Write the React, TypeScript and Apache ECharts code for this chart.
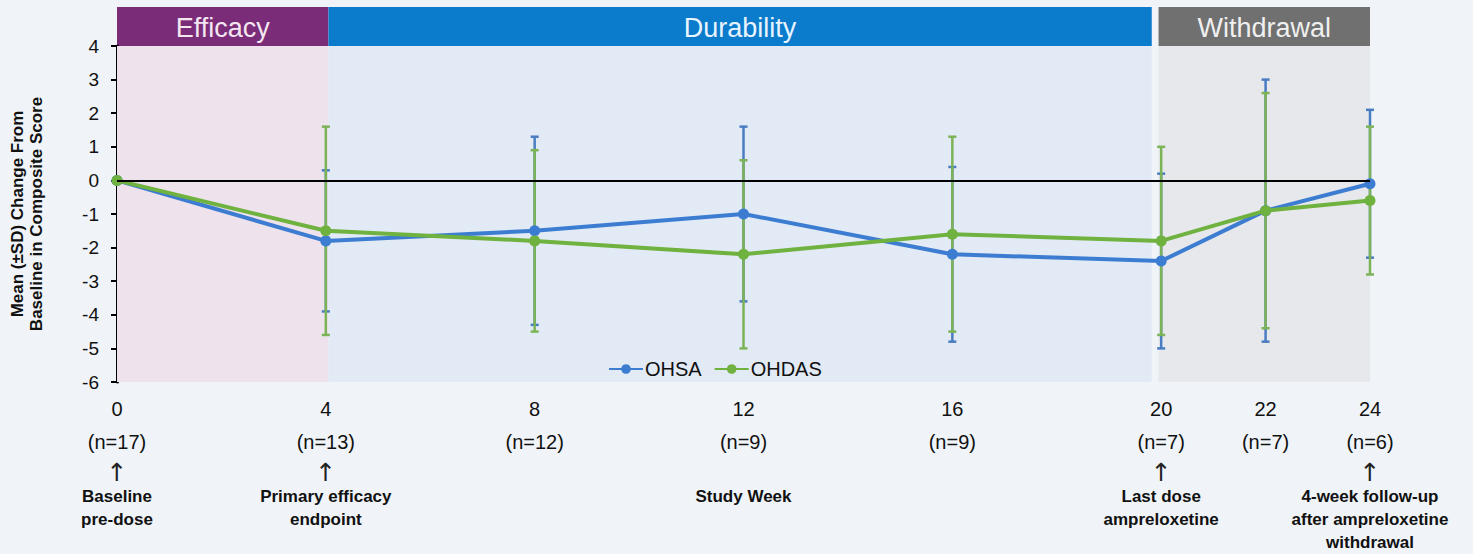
import React, { useEffect, useRef } from "react";
import * as echarts from "echarts";

// ---- data ----
const weeks = [0, 4, 8, 12, 16, 20, 22, 24];
const nCounts = [17, 13, 12, 9, 9, 7, 7, 6];
const ohsaMean = [0, -1.8, -1.5, -1.0, -2.2, -2.4, -0.9, -0.1];
const ohsaSD = [0, 2.1, 2.8, 2.6, 2.6, 2.6, 3.9, 2.2];
const ohdasMean = [0, -1.5, -1.8, -2.2, -1.6, -1.8, -0.9, -0.6];
const ohdasSD = [0, 3.1, 2.7, 2.8, 2.9, 2.8, 3.5, 2.2];
const arrows = [true, true, false, false, false, true, false, true];
const notes = [
  "Baseline\npre-dose",
  "Primary efficacy\nendpoint",
  "",
  "Study Week",
  "",
  "Last dose\nampreloxetine",
  "",
  "4-week follow-up\nafter ampreloxetine\nwithdrawal",
];
const phaseNames = ["Efficacy", "Durability", "Withdrawal"];
const phaseStart = [0, 4.05, 19.95];
const phaseEnd = [4.05, 19.82, 24];
const yTicks = { min: -6, max: 4, interval: 1 };
const yName = "Mean (±SD) Change From\nBaseline in Composite Score";

// ---- styles ----
const BLUE = "#3C7DD2";
const GREEN = "#6FB23F";
const BLUE_ERR = "#4A7CC2";
const GREEN_ERR = "#7BB356";
const phaseColors = ["#7B2C78", "#0B7BCB", "#707070"];
const phaseTextColors = ["#F3E6F1", "#E8F4FF", "#EFEFEF"];
const phaseShade = ["#EEE3EC", "#E2EAF5", "#E6E8EB"];
const FONT = "'Liberation Sans', Arial, sans-serif";

function errRows(mean: number[], sd: number[]) {
  return weeks
    .map((w, i) => [w, mean[i] - sd[i], mean[i] + sd[i], sd[i]])
    .filter((r) => r[3] > 0);
}

function errSeries(name: string, mean: number[], sd: number[], color: string) {
  return {
    type: "custom",
    name: name + " SD",
    data: errRows(mean, sd),
    encode: { x: 0, y: [1, 2] },
    z: 2,
    silent: true,
    renderItem: (_p: any, api: any) => {
      const x = api.value(0);
      const lo = api.coord([x, api.value(1)]);
      const hi = api.coord([x, api.value(2)]);
      const cw = 4;
      const st = { stroke: color, lineWidth: 2.5 };
      return {
        type: "group",
        children: [
          { type: "line", shape: { x1: lo[0], y1: lo[1], x2: hi[0], y2: hi[1] }, style: st },
          { type: "line", shape: { x1: lo[0] - cw, y1: lo[1], x2: lo[0] + cw, y2: lo[1] }, style: st },
          { type: "line", shape: { x1: hi[0] - cw, y1: hi[1], x2: hi[0] + cw, y2: hi[1] }, style: st },
        ],
      };
    },
  };
}

function xLabel(value: number) {
  const i = weeks.indexOf(value);
  if (i < 0) return "";
  let s = `{w|${weeks[i]}}\n{n|(n=${nCounts[i]})}\n{a|${arrows[i] ? "↑" : " "}}`;
  if (notes[i]) {
    notes[i].split("\n").forEach((line) => {
      s += `\n{d|${line}}`;
    });
  }
  return s;
}

export default function App() {
  const ref = useRef<HTMLDivElement>(null);
  useEffect(() => {
    if (!ref.current) return;
    const chart = echarts.init(ref.current, null, { renderer: "svg" });
    const option: any = {
      animation: false,
      backgroundColor: "#F0F4F8",
      textStyle: { fontFamily: FONT },
      grid: { left: 117, right: 103, top: 46, bottom: 172 },
      legend: {
        data: ["OHSA", "OHDAS"],
        left: 603,
        top: 354,
        itemWidth: 34,
        itemHeight: 12,
        itemGap: 12,
        textStyle: { fontSize: 20, color: "#111", fontFamily: FONT, padding: [0, 0, 0, -3] },
      },
      xAxis: {
        type: "value",
        min: 0,
        max: 24,
        interval: 2,
        axisLine: { show: false },
        axisTick: { show: false },
        splitLine: { show: false },
        axisLabel: {
          margin: 12,
          formatter: xLabel,
          color: "#111",
          rich: {
            w: { fontSize: 20, lineHeight: 29, color: "#111", fontFamily: FONT },
            n: { fontSize: 20, lineHeight: 37, color: "#111", fontFamily: FONT },
            a: { fontSize: 25, lineHeight: 25, color: "#222", fontFamily: "'DejaVu Sans', sans-serif" },
            d: { fontSize: 17, lineHeight: 23, fontWeight: "bold", color: "#111", fontFamily: FONT },
          },
        },
      },
      yAxis: {
        type: "value",
        min: yTicks.min,
        max: yTicks.max,
        interval: yTicks.interval,
        name: yName,
        nameLocation: "middle",
        nameGap: 71,
        nameTextStyle: { fontSize: 17, fontWeight: "bold", color: "#111", lineHeight: 19, fontFamily: FONT },
        axisLine: { show: true, lineStyle: { color: "#000", width: 3 } },
        axisTick: { show: true, length: 6, lineStyle: { color: "#000", width: 2 } },
        splitLine: { show: false },
        axisLabel: { fontSize: 19, color: "#111", margin: 18, fontFamily: FONT },
      },
      series: [
        errSeries("OHSA", ohsaMean, ohsaSD, BLUE_ERR),
        errSeries("OHDAS", ohdasMean, ohdasSD, GREEN_ERR),
        {
          type: "line",
          name: "OHSA",
          data: weeks.map((w, i) => [w, ohsaMean[i]]),
          symbol: "circle",
          symbolSize: 11,
          z: 3,
          lineStyle: { color: BLUE, width: 4 },
          itemStyle: { color: BLUE },
          markArea: {
            silent: true,
            data: phaseNames.map((_, i) => [
              { xAxis: phaseStart[i], itemStyle: { color: phaseShade[i] } },
              { xAxis: phaseEnd[i] },
            ]),
          },
          markLine: {
            silent: true,
            symbol: "none",
            label: { show: false },
            lineStyle: { color: "#000", width: 2, type: "solid" },
            data: [{ yAxis: 0 }],
          },
        },
        {
          type: "line",
          name: "OHDAS",
          data: weeks.map((w, i) => [w, ohdasMean[i]]),
          symbol: "circle",
          symbolSize: 11,
          z: 4,
          lineStyle: { color: GREEN, width: 4 },
          itemStyle: { color: GREEN },
        },
      ],
    };
    chart.setOption(option);
    const yTop = chart.convertToPixel({ yAxisIndex: 0 }, yTicks.max) as number;
    const headTop = 7;
    const graphic = phaseNames.map((name, i) => {
      const x0 = chart.convertToPixel({ xAxisIndex: 0 }, phaseStart[i]) as number;
      const x1 = chart.convertToPixel({ xAxisIndex: 0 }, phaseEnd[i]) as number;
      return {
        type: "group",
        children: [
          {
            type: "rect",
            shape: { x: x0, y: headTop, width: x1 - x0, height: yTop - headTop },
            style: { fill: phaseColors[i] },
          },
          {
            type: "text",
            style: {
              text: name,
              x: (x0 + x1) / 2,
              y: (headTop + yTop) / 2 + 1,
              align: "center",
              verticalAlign: "middle",
              fill: phaseTextColors[i],
              font: `27px ${FONT}`,
            },
          },
        ],
      };
    });
    chart.setOption({ graphic });
    return () => chart.dispose();
  }, []);
  return (
    <div
      ref={ref}
      style={{ position: "fixed", left: 0, top: 0, width: 1473, height: 554 }}
    />
  );
}
